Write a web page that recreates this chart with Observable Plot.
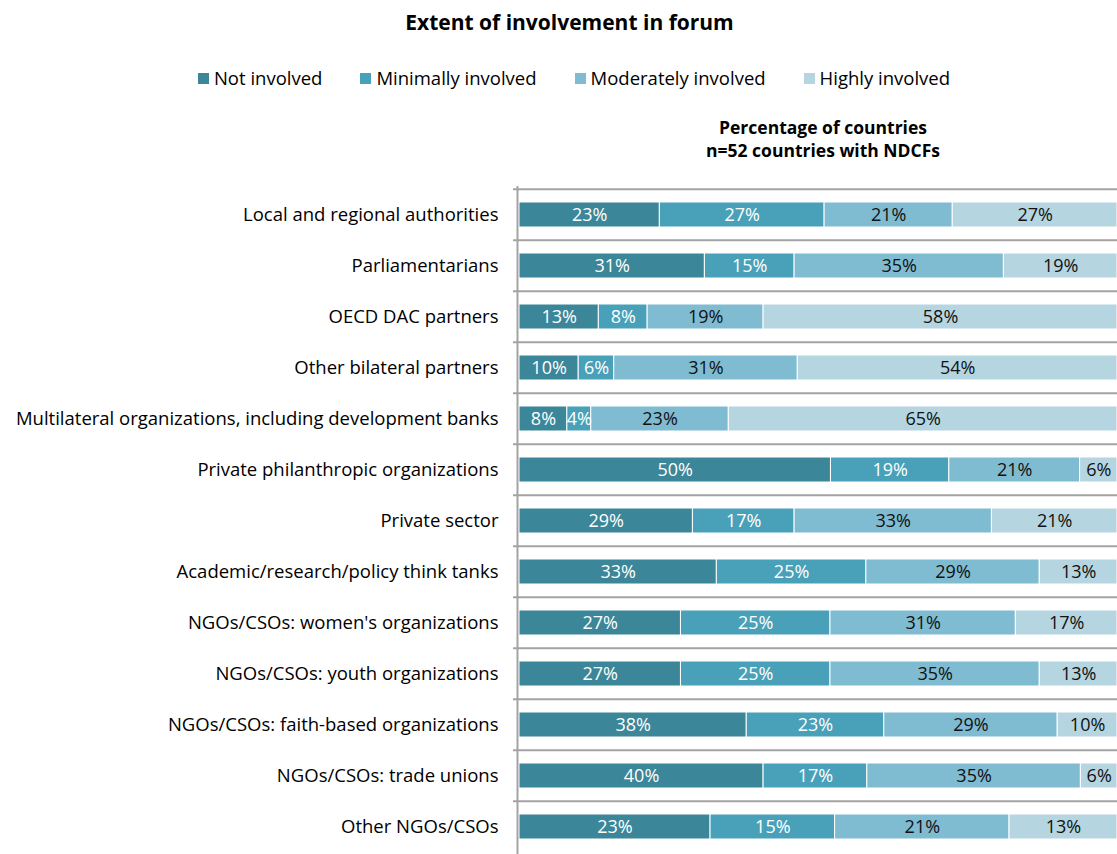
<!DOCTYPE html>
<html><head><meta charset="utf-8">
<script src="https://cdn.jsdelivr.net/npm/d3@7"></script>
<script src="https://cdn.jsdelivr.net/npm/@observablehq/plot@0.6"></script>
<style>
body{margin:0;background:#fff;font-family:"Open Sans",sans-serif;color:#000;width:1117px;overflow:hidden}
#header{position:relative;height:180px}
#title{position:absolute;left:0;width:1139px;top:8px;text-align:center;font-weight:bold;font-size:21px;line-height:28px}
#legend{position:absolute;left:0;width:1117px;top:65px;display:flex;justify-content:center;gap:38px;font-size:18.5px;line-height:26px;padding-left:31px;box-sizing:border-box}
#legend span.item{display:flex;align-items:center}
#legend span.sw{display:inline-block;width:11px;height:11px;margin-right:5px}
#sub{position:absolute;left:523px;width:600px;top:116px;text-align:center;font-weight:bold;font-size:17.5px;line-height:23px}
#chart svg{display:block}
</style></head>
<body>
<div id="header">
  <div id="title">Extent of involvement in forum</div>
  <div id="legend"></div>
  <div id="sub">Percentage of countries<br>n=52 countries with NDCFs</div>
</div>
<div id="chart"></div>
<script>
const categories = [
  "Local and regional authorities",
  "Parliamentarians",
  "OECD DAC partners",
  "Other bilateral partners",
  "Multilateral organizations, including development banks",
  "Private philanthropic organizations",
  "Private sector",
  "Academic/research/policy think tanks",
  "NGOs/CSOs: women's organizations",
  "NGOs/CSOs: youth organizations",
  "NGOs/CSOs: faith-based organizations",
  "NGOs/CSOs: trade unions",
  "Other NGOs/CSOs"
];
const seriesNames = ["Not involved", "Minimally involved", "Moderately involved", "Highly involved"];
const notInvolved       = [23, 31, 13, 10,  8, 50, 29, 33, 27, 27, 38, 40, 23];
const minimallyInvolved = [27, 15,  8,  6,  4, 19, 17, 25, 25, 25, 23, 17, 15];
const moderatelyInvolved= [21, 35, 19, 31, 23, 21, 33, 29, 31, 35, 29, 35, 21];
const highlyInvolved    = [27, 19, 58, 54, 65,  6, 21, 13, 17, 13, 10,  6, 13];
const colors = ["#3b8698", "#48a1b9", "#7fbbd1", "#b5d5e1"];

const seriesValues = [notInvolved, minimallyInvolved, moderatelyInvolved, highlyInvolved];
const data = [];
categories.forEach((cat, i) => {
  seriesNames.forEach((s, j) => data.push({cat, series: s, idx: j, value: seriesValues[j][i]}));
});

// legend
const legend = document.getElementById("legend");
seriesNames.forEach((s, j) => {
  const it = document.createElement("span");
  it.className = "item";
  it.innerHTML = `<span class="sw" style="background:${colors[j]}"></span>${s}`;
  legend.appendChild(it);
});

const H = 676, MT = 6, MB = 0.5;
const step = (H - MT - MB) / categories.length;

const chart = Plot.plot({
  width: 1117,
  height: H,
  marginLeft: 519,
  marginRight: 0,
  marginTop: MT,
  marginBottom: MB,
  style: {fontFamily: "'Open Sans', sans-serif", fontSize: "18px", color: "#000", background: "#fff"},
  x: {domain: [0, 1], axis: null},
  y: {domain: categories, padding: 0, axis: null},
  color: {domain: seriesNames, range: colors},
  marks: [
    Plot.barX(data, Plot.stackX({x: "value", y: "cat", fill: "series", z: "series", offset: "normalize",
      insetTop: 13, insetBottom: 13, stroke: "white", strokeWidth: 1})),
    Plot.text(data, Plot.stackX({x: "value", y: "cat", z: "series", offset: "normalize",
      text: d => d.idx < 2 ? d.value + "%" : "", fill: "white", fontSize: 18})),
    Plot.text(data, Plot.stackX({x: "value", y: "cat", z: "series", offset: "normalize",
      text: d => d.idx >= 2 ? d.value + "%" : "", fill: "#111", fontSize: 18})),
    Plot.ruleY(categories, {y: d => d, dy: -step / 2, insetLeft: -6, stroke: "#a3a3a3", strokeWidth: 2}),
    Plot.ruleX([0], {dx: -2, stroke: "#a3a3a3", strokeWidth: 2}),
    Plot.axisY({tickSize: 0, tickPadding: 21, fontSize: 18.5, label: null})
  ]
});
document.getElementById("chart").appendChild(chart);
</script>
</body></html>
